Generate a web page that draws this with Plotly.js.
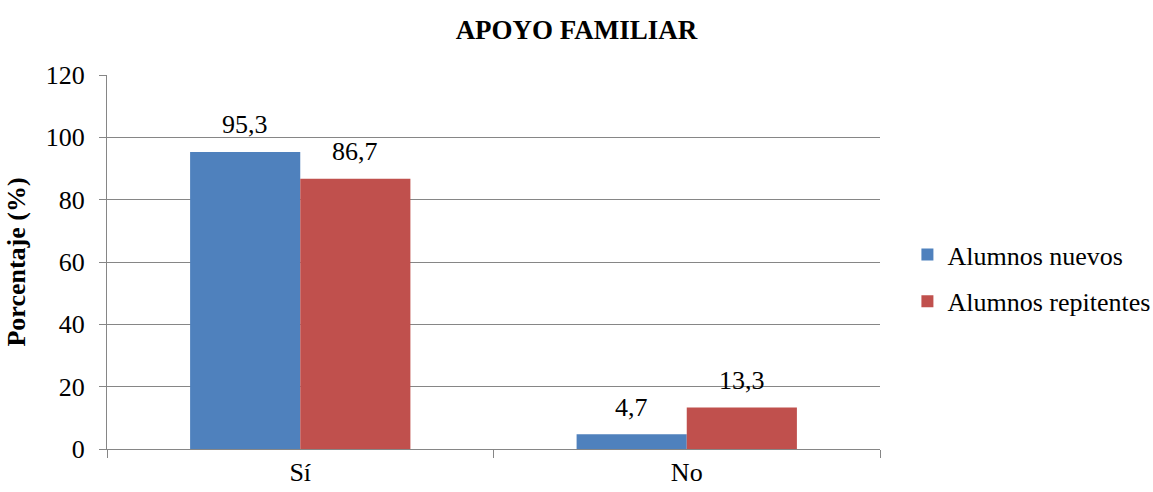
<!DOCTYPE html>
<html>
<head>
<meta charset="utf-8">
<script src="https://cdn.plot.ly/plotly-3.0.1.min.js"></script>
<style>html,body{margin:0;padding:0;background:#fff;}#chart{width:1153px;height:492px;}</style>
</head>
<body>
<div id="chart"></div>
<script>
var categories = ["Sí", "No"];
var seriesNames = ["Alumnos nuevos", "Alumnos repitentes"];
var nuevos = [95.3, 4.7];
var repitentes = [86.7, 13.3];
var yTicks = [0, 20, 40, 60, 80, 100, 120];

function fmt(v){ return v.toFixed(1).replace('.', ','); }
var FONT = "Liberation Serif";
var BARGAP = 0.43;

var traces = [
  {type:'bar', name:seriesNames[0], x:categories, y:nuevos, marker:{color:'#4F81BD'}, legendgroup:'a', hoverinfo:'none'},
  {type:'bar', name:seriesNames[1], x:categories, y:repitentes, marker:{color:'#C0504D'}, legendgroup:'b', hoverinfo:'none'}
];

// value labels above each bar, placed through the axes
var series = [nuevos, repitentes];
var halfBar = (1 - BARGAP) / series.length / 2;
var annotations = [];
series.forEach(function(vals, s){
  vals.forEach(function(v, i){
    annotations.push({
      x: i + (s === 0 ? -halfBar : halfBar), y: v, xref:'x', yref:'y',
      text: fmt(v), showarrow:false, xanchor:'center', yanchor:'middle', yshift:27,
      font:{family:FONT, size:26, color:'#000'}
    });
  });
});

var layout = {
  width:1153, height:492,
  margin:{l:107, r:273, t:75, b:43, autoexpand:false},
  paper_bgcolor:'#fff', plot_bgcolor:'#fff',
  font:{family:FONT, size:26, color:'#000'},
  title:{text:'<b>APOYO FAMILIAR</b>', x:0.5, xref:'container', xanchor:'center', y:0.94, yanchor:'middle', font:{family:FONT,size:27,color:'#000'}},
  barmode:'group', bargap:BARGAP, bargroupgap:0,
  xaxis:{type:'category', tickson:'boundaries', ticks:'outside', ticklen:8, tickcolor:'#868686', tickwidth:1,
    showline:true, linecolor:'#868686', linewidth:1, showgrid:false, zeroline:false,
    tickfont:{family:FONT,size:26,color:'#000'}},
  yaxis:{range:[0,120], tickvals:yTicks, ticktext:yTicks.map(String), ticks:'outside', ticklen:7, tickcolor:'#868686',
    showline:true, linecolor:'#868686', linewidth:1, showgrid:true, gridcolor:'#868686', gridwidth:1, zeroline:false,
    tickfont:{family:FONT,size:26,color:'#000'}, ticklabelstandoff:9,
    title:{text:'<b>Porcentaje (%)</b>', font:{family:FONT,size:26,color:'#000'}, standoff:12}},
  annotations: annotations,
  showlegend:true,
  legend:{xref:'container', x:0.787, xanchor:'left', yref:'paper', y:0.457, yanchor:'middle', traceorder:'grouped', tracegroupgap:10,
    font:{family:FONT,size:26,color:'#000'}, itemwidth:30, bgcolor:'rgba(0,0,0,0)'}
};

Plotly.newPlot('chart', traces, layout, {staticPlot:true, displayModeBar:false});
</script>
</body>
</html>
